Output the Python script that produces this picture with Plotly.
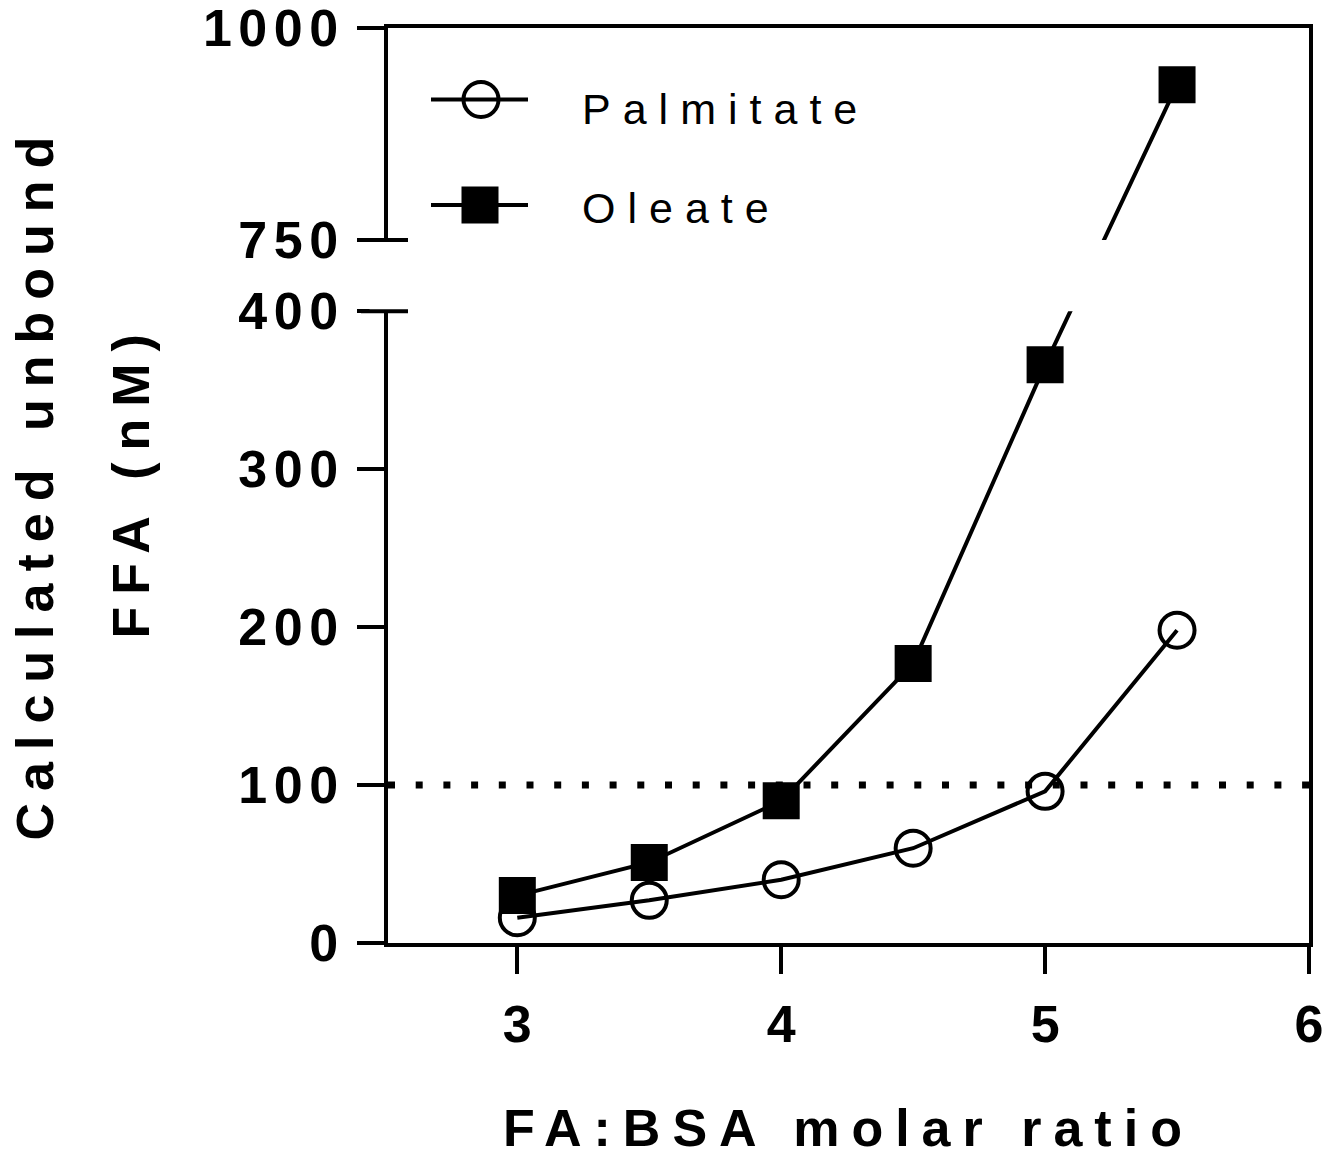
import plotly.graph_objects as go

# ---------------- data ----------------
fa_bsa_ratio = [3, 3.5, 4, 4.5, 5, 5.5]
palmitate_nM = [16, 27, 40, 60, 96, 198]
oleate_nM = [30, 51, 90, 177, 366, 933]
series_names = ["Palmitate", "Oleate"]
y_tick_values = [0, 100, 200, 300, 400, 750, 1000]
y_tick_labels = ["0", "100", "200", "300", "400", "750", "1000"]
x_tick_values = [3, 4, 5, 6]
x_tick_labels = ["3", "4", "5", "6"]
threshold_nM = 100
x_title = "FA:BSA molar ratio"
y_title_lines = ["Calculated unbound", "FFA (nM)"]

# ---------------- broken y-axis mapping ----------------
BREAK_LOW, BREAK_HIGH, AXIS_TOP = 400, 750, 1000
GAP = 45.0            # blank axis units between the two segments
UPPER_SCALE = 0.537   # upper segment compression


def to_axis(v):
    return v if v <= BREAK_LOW else BREAK_LOW + GAP + (v - BREAK_HIGH) * UPPER_SCALE


Y_MAX = to_axis(AXIS_TOP)

# ---------------- geometry ----------------
W, H = 1336, 1157
ML, MR, MT, MB = 388, 27, 28, 214
PW, PH = W - ML - MR, H - MT - MB


def pxx(p):
    return (p - ML) / PW


def pxy(p):
    return (H - MB - p) / PH


FONT = "Liberation Sans, Arial, sans-serif"
LW = 4

fig = go.Figure()

fig.add_trace(go.Scatter(
    x=fa_bsa_ratio, y=[to_axis(v) for v in palmitate_nM], name=series_names[0],
    mode="lines+markers", line=dict(color="black", width=LW),
    marker=dict(symbol="circle-open", size=35, color="black", line=dict(width=LW, color="black")),
    cliponaxis=False, showlegend=False))
fig.add_trace(go.Scatter(
    x=fa_bsa_ratio, y=[to_axis(v) for v in oleate_nM], name=series_names[1],
    mode="lines+markers", line=dict(color="black", width=LW),
    marker=dict(symbol="square", size=37, color="black", line=dict(width=0)),
    cliponaxis=False, showlegend=False))

shapes = []
# dotted threshold line
shapes.append(dict(type="line", xref="paper", yref="y", x0=0, x1=1,
                   y0=to_axis(threshold_nM), y1=to_axis(threshold_nM),
                   line=dict(color="black", width=7, dash="7px,20.7px"), layer="below"))
# white gap over the axis break
y_lo = to_axis(BREAK_LOW) / Y_MAX
y_hi = to_axis(BREAK_HIGH) / Y_MAX
shapes.append(dict(type="rect", xref="paper", yref="paper", x0=-0.02, x1=0.99,
                   y0=y_lo, y1=y_hi, fillcolor="white", line=dict(width=0), layer="above"))
# break ticks (cross the spine)
for yy in (y_lo, y_hi):
    shapes.append(dict(type="line", xref="paper", yref="paper", xsizemode="pixel", xanchor=0,
                       x0=-27, x1=20, y0=yy, y1=yy, line=dict(color="black", width=LW),
                       layer="above"))

# custom legend
leg_rows = [pxy(99.5), pxy(205)]
for yy in leg_rows:
    shapes.append(dict(type="line", xref="paper", yref="paper", x0=pxx(431), x1=pxx(528),
                       y0=yy, y1=yy, line=dict(color="black", width=LW), layer="above"))
shapes.append(dict(type="circle", xref="paper", yref="paper", xsizemode="pixel", ysizemode="pixel",
                   xanchor=pxx(481), yanchor=leg_rows[0], x0=-17.5, x1=17.5, y0=-17.5, y1=17.5,
                   line=dict(color="black", width=LW), fillcolor="rgba(0,0,0,0)", layer="above"))
shapes.append(dict(type="rect", xref="paper", yref="paper", xsizemode="pixel", ysizemode="pixel",
                   xanchor=pxx(480), yanchor=leg_rows[1], x0=-18.5, x1=18.5, y0=-18.5, y1=18.5,
                   line=dict(width=0), fillcolor="black", layer="above"))

annotations = []
for name, ty in zip(series_names, [pxy(108.5), pxy(207.5)]):
    annotations.append(dict(text=name, xref="paper", yref="paper", x=0, xshift=192, y=ty,
                            xanchor="left", yanchor="middle", align="left", showarrow=False,
                            font=dict(family=FONT, size=43, color="black")))
for line_text, xs, ys in zip(y_title_lines, [34 - ML, 130 - ML], [3, 5]):
    annotations.append(dict(text=line_text, xref="paper", yref="paper", x=0, xshift=xs,
                            y=0.5, yshift=ys, xanchor="center", yanchor="middle",
                            textangle=-90, showarrow=False,
                            font=dict(family=FONT, size=52, color="black", weight="bold")))

fig.update_layout(
    width=W, height=H, margin=dict(l=ML, r=MR, t=MT, b=MB, autoexpand=False),
    paper_bgcolor="white", plot_bgcolor="white", showlegend=False,
    shapes=shapes, annotations=annotations,
    xaxis=dict(range=[2.51, 6], tickvals=x_tick_values, ticktext=x_tick_labels,
               ticks="outside", ticklen=27, tickwidth=LW, tickcolor="black",
               showline=True, linewidth=LW, linecolor="black", mirror=True,
               showgrid=False, zeroline=False, ticklabelstandoff=6,
               ticklabeloverflow="allow",
               tickfont=dict(family=FONT, size=52, color="black", weight="bold"),
               title=dict(text=x_title, standoff=69,
                          font=dict(family=FONT, size=52, color="black", weight="bold"))),
    yaxis=dict(range=[0, Y_MAX], tickvals=[to_axis(v) for v in y_tick_values], ticktext=y_tick_labels,
               ticks="outside", ticklen=27, tickwidth=LW, tickcolor="black",
               showline=True, linewidth=LW, linecolor="black", mirror=True,
               showgrid=False, zeroline=False, ticklabelstandoff=2,
               ticklabeloverflow="allow",
               tickfont=dict(family=FONT, size=52, color="black", weight="bold")),
)

post = ("document.body.style.margin='0';document.body.style.overflow='hidden';"
        "var st=document.createElement('style');"
        "st.textContent='.ytick text{letter-spacing:6.5px}"
        " .xtitle{letter-spacing:12px} .annotation-text{letter-spacing:12px}';"
        "document.head.appendChild(st);")

fig.write_html("out.html", post_script=post, config={"displayModeBar": False})
